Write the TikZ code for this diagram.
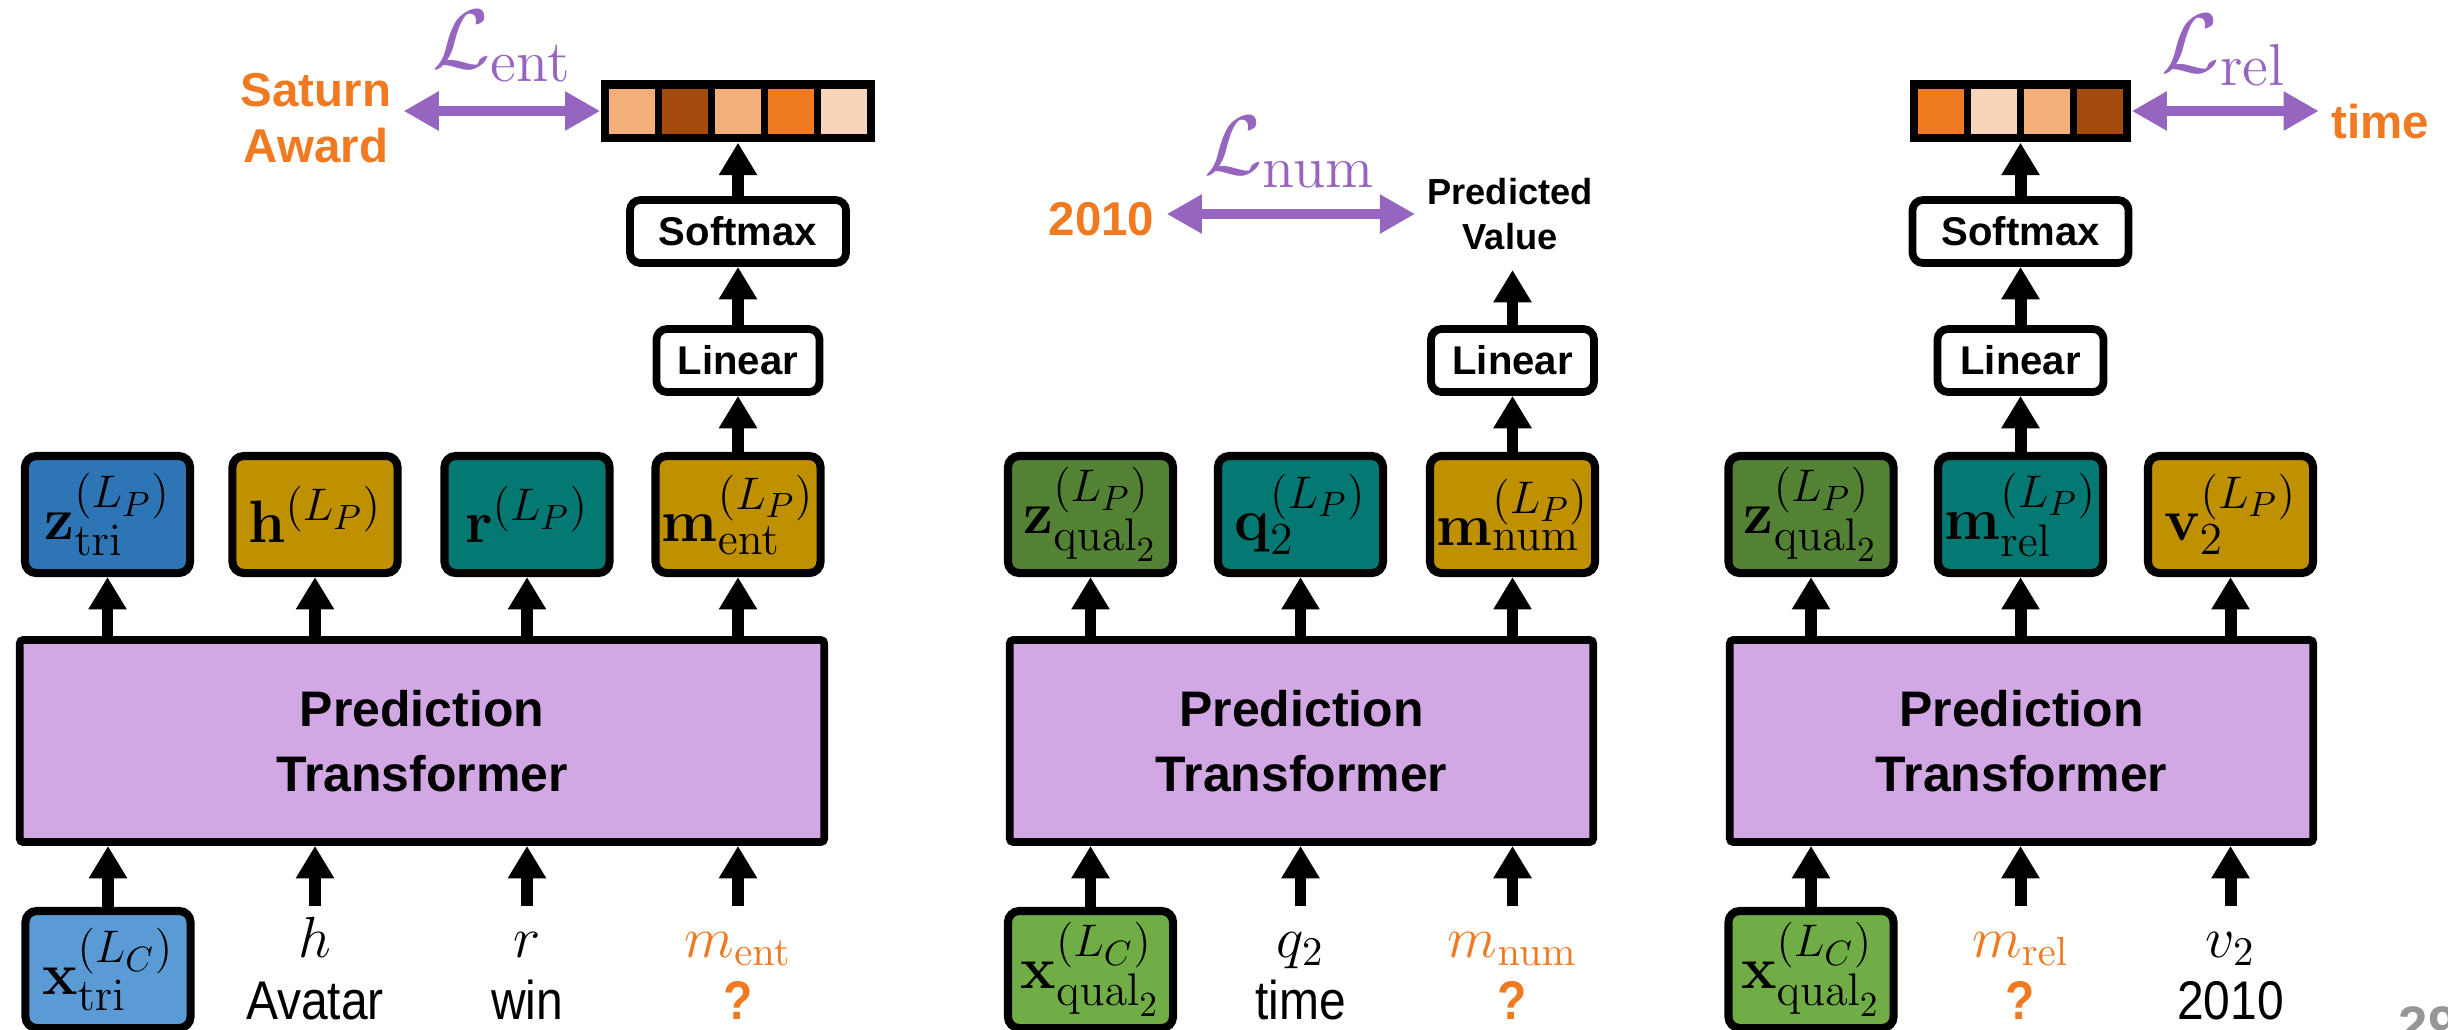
\documentclass[tikz,border=0pt]{standalone}
\usepackage{fix-cm}
\usepackage[no-math]{fontspec}
\setmainfont{Liberation Sans}
\newfontfamily\condfont[FakeStretch=0.88]{Liberation Sans}
\DeclareMathSizes{17}{17}{13}{10}
\usetikzlibrary{arrows.meta,calc}
\definecolor{zblue}{RGB}{46,117,182}
\definecolor{xblue}{RGB}{91,155,213}
\definecolor{cgold}{RGB}{191,144,0}
\definecolor{cteal}{RGB}{4,120,114}
\definecolor{zgreen}{RGB}{84,130,53}
\definecolor{xgreen}{RGB}{112,173,71}
\definecolor{tfc}{RGB}{210,168,228}
\definecolor{purp}{RGB}{150,101,191}
\definecolor{orng}{RGB}{240,122,34}
\definecolor{clo}{RGB}{245,175,123}
\definecolor{cdk}{RGB}{163,75,13}
\definecolor{cpale}{RGB}{248,213,184}
\definecolor{pgray}{RGB}{150,150,150}
\tikzset{
  blk/.style={draw=black, line width=2.3pt, rounded corners=3.2pt, inner sep=0pt,
    minimum width=1.65cm, minimum height=1.17cm, font=\fontsize{17}{20}\selectfont},
  tfbox/.style={draw=black, line width=2.2pt, fill=tfc, rounded corners=1pt, inner sep=0pt,
    minimum height=2.02cm, align=center, font=\fontsize{14.2}{18.5}\selectfont\bfseries},
  opbox/.style={draw=black, line width=2.2pt, fill=white, rounded corners=3pt, inner sep=0pt,
    minimum height=0.63cm, font=\fontsize{11.4}{13}\selectfont\bfseries},
  arr/.style={line width=3.4pt, -{Triangle[length=9.2pt,width=10.3pt]}},
  parr/.style={line width=2.85pt, draw=purp,
    {Triangle[length=10pt,width=10.5pt]}-{Triangle[length=10pt,width=10.5pt]}},
  olab/.style={text=orng, align=center, font=\fontsize{13.5}{16}\selectfont\bfseries},
  inmath/.style={anchor=base, inner sep=0pt, font=\fontsize{16.5}{18}\selectfont},
  intext/.style={anchor=base, inner sep=0pt, font=\condfont\fontsize{15.5}{18}\selectfont},
  qlab/.style={anchor=base, inner sep=0pt, text=orng, font=\condfont\fontsize{15.5}{18}\selectfont\bfseries},
  lossl/.style={text=purp, inner sep=0pt, font=\fontsize{24}{28}\selectfont},
  vecbg/.style={fill=black, inner sep=0pt, minimum height=0.62cm},
  cell/.style={inner sep=0pt, minimum width=0.46cm, minimum height=0.45cm},
}
\begin{document}
\begin{tikzpicture}[x=0.01cm, y=-0.01cm]
\useasboundingbox (0,0) rectangle (2448,1029);

% ================= left panel =================
\node[tfbox, minimum width=8.04cm] (tf1) at (422,741) {Prediction\\Transformer};
\node[blk, fill=zblue] (zt) at (107.5,514.5) {$\mathbf{z}^{(L_P)}_{\mathrm{tri}}$};
\node[blk, fill=cgold] (h1) at (315,514.5) {$\mathbf{h}^{(L_P)}$};
\node[blk, fill=cteal] (r1) at (527,514.5) {$\mathbf{r}^{(L_P)}$};
\node[blk, fill=cgold] (me) at (738,514.5) {$\mathbf{m}^{(L_P)}_{\mathrm{ent}}$};
\node[opbox, minimum width=1.63cm] (lin1) at (738,360.5) {Linear};
\node[opbox, minimum width=2.16cm] (sm1) at (738,231.5) {Softmax};
\node[vecbg, minimum width=2.74cm] (vec1) at (738,111) {};
\node[cell, fill=clo] (v11) at (632,111) {};
\node[cell, fill=cdk] (v12) at (685,111) {};
\node[cell, fill=clo] (v13) at (738,111) {};
\node[cell, fill=orng] (v14) at (791,111) {};
\node[cell, fill=cpale] (v15) at (844,111) {};
\node[olab] (sat) at (316,118) {Saturn\\Award};
\node[lossl] (le) at (502,46) {$\mathcal{L}_{\mathrm{ent}}$};

\node[blk, fill=xblue] (xt) at (108,969.5) {$\mathbf{x}^{(L_C)}_{\mathrm{tri}}$};
\coordinate (c12) at (315,906);
\coordinate (c13) at (527,906);
\coordinate (c14) at (738,906);
\node[inmath] (hm) at (315,957) {$h$};
\node[intext] (ht) at (315,1019) {Avatar};
\node[inmath] (rm) at (527,957) {$r$};
\node[intext] (rt) at (527,1019) {win};
\node[inmath, text=orng] (mem) at (738,957) {$m_{\mathrm{ent}}$};
\node[qlab] (meq) at (738,1019) {?};

\foreach \n in {zt,h1,r1,me} \draw[arr] (tf1.north -| \n) -- (\n.south);
\draw[arr] (me.north) -- (lin1.south);
\draw[arr] (lin1.north) -- (sm1.south);
\draw[arr] (sm1.north) -- (vec1.south);
\draw[arr] (xt.north) -- (xt.north |- tf1.south);
\foreach \c in {c12,c13,c14} \draw[arr] (\c) -- (\c |- tf1.south);
\draw[parr] (sat.east |- vec1.west) -- (vec1.west);

% ================= middle panel =================
\node[tfbox, minimum width=5.83cm] (tf2) at (1301.5,741) {Prediction\\Transformer};
\node[blk, fill=zgreen] (zq2) at (1090.5,514.5) {$\mathbf{z}^{(L_P)}_{\mathrm{qual}_2}$};
\node[blk, fill=cteal] (q2) at (1300.5,514.5) {$\mathbf{q}^{(L_P)}_{2}$};
\node[blk, fill=cgold] (mn) at (1512.5,514.5) {$\mathbf{m}^{(L_P)}_{\mathrm{num}}$};
\node[opbox, minimum width=1.63cm] (lin2) at (1512.5,360.5) {Linear};
\coordinate (pvin) at (1512.5,270);
\node[align=center, font=\fontsize{10.3}{13}\selectfont\bfseries] (pv) at (1510,214) {Predicted\\Value};
\node[olab] (y2010) at (1101.5,219.5) {2010};
\node[lossl] (ln) at (1290,152) {$\mathcal{L}_{\mathrm{num}}$};

\node[blk, fill=xgreen] (xq2) at (1090.5,969.5) {$\mathbf{x}^{(L_C)}_{\mathrm{qual}_2}$};
\coordinate (c22) at (1300.5,906);
\coordinate (c23) at (1512.5,906);
\node[inmath] (qm) at (1300.5,957) {$q_2$};
\node[intext] (qt) at (1300.5,1019) {time};
\node[inmath, text=orng] (mnm) at (1512.5,957) {$m_{\mathrm{num}}$};
\node[qlab] (mnq) at (1512.5,1019) {?};

\foreach \n in {zq2,q2,mn} \draw[arr] (tf2.north -| \n) -- (\n.south);
\draw[arr] (mn.north) -- (lin2.south);
\draw[arr] (lin2.north) -- (pvin);
\draw[arr] (xq2.north) -- (xq2.north |- tf2.south);
\foreach \c in {c22,c23} \draw[arr] (\c) -- (\c |- tf2.south);
\draw[parr] (y2010.east |- pv.west) -- (pv.west);

% ================= right panel =================
\node[tfbox, minimum width=5.83cm] (tf3) at (2021.5,741) {Prediction\\Transformer};
\node[blk, fill=zgreen] (zq3) at (1811,514.5) {$\mathbf{z}^{(L_P)}_{\mathrm{qual}_2}$};
\node[blk, fill=cteal] (mr) at (2020.5,514.5) {$\mathbf{m}^{(L_P)}_{\mathrm{rel}}$};
\node[blk, fill=cgold] (v2) at (2230.5,514.5) {$\mathbf{v}^{(L_P)}_{2}$};
\node[opbox, minimum width=1.66cm] (lin3) at (2020.5,360.5) {Linear};
\node[opbox, minimum width=2.16cm] (sm3) at (2020.5,231.5) {Softmax};
\node[vecbg, minimum width=2.21cm] (vec3) at (2020.5,111) {};
\node[cell, fill=orng] (v31) at (1941,111) {};
\node[cell, fill=cpale] (v32) at (1994,111) {};
\node[cell, fill=clo] (v33) at (2047,111) {};
\node[cell, fill=cdk] (v34) at (2100,111) {};
\node[olab] (tm) at (2380,122) {time};
\node[lossl] (lr) at (2224,50) {$\mathcal{L}_{\mathrm{rel}}$};

\node[blk, fill=xgreen] (xq3) at (1811,969.5) {$\mathbf{x}^{(L_C)}_{\mathrm{qual}_2}$};
\coordinate (c32) at (2020.5,906);
\coordinate (c33) at (2230.5,906);
\node[inmath, text=orng] (mrm) at (2020.5,957) {$m_{\mathrm{rel}}$};
\node[qlab] (mrq) at (2020.5,1019) {?};
\node[inmath] (vm) at (2230.5,957) {$v_2$};
\node[intext] (vt) at (2230.5,1019) {2010};

\foreach \n in {zq3,mr,v2} \draw[arr] (tf3.north -| \n) -- (\n.south);
\draw[arr] (mr.north) -- (lin3.south);
\draw[arr] (lin3.north) -- (sm3.south);
\draw[arr] (sm3.north) -- (vec3.south);
\draw[arr] (xq3.north) -- (xq3.north |- tf3.south);
\foreach \c in {c32,c33} \draw[arr] (\c) -- (\c |- tf3.south);
\draw[parr] (vec3.east) -- (tm.west |- vec3.east);

\node[anchor=north west, inner sep=0pt, text=pgray, font=\fontsize{15}{18}\selectfont\bfseries] (pg) at (2398,1006) {29};
\end{tikzpicture}
\end{document}
